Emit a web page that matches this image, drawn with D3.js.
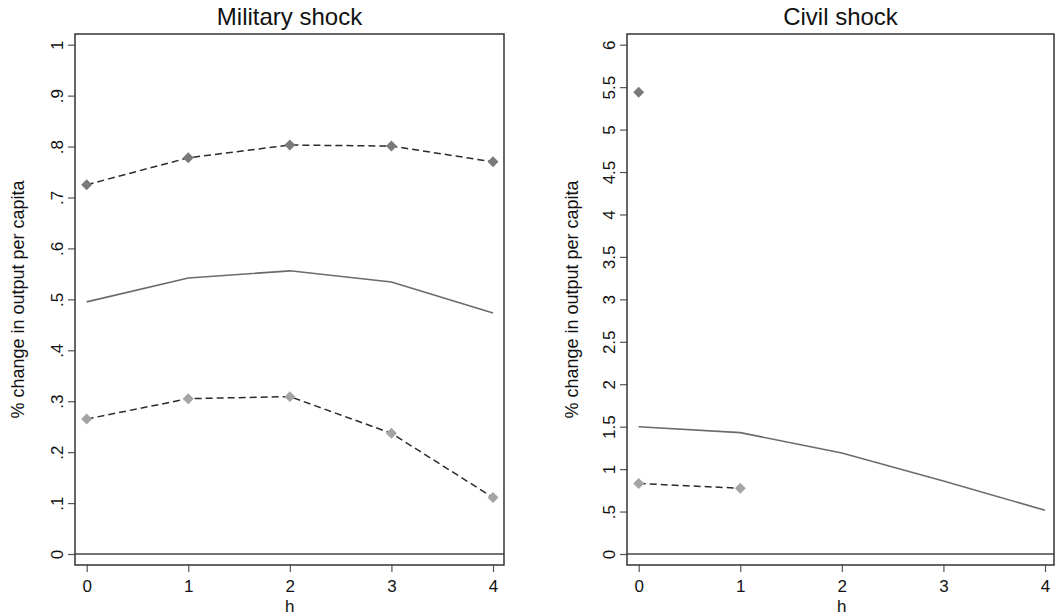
<!DOCTYPE html>
<html>
<head>
  <meta charset="utf-8">
  <title>Military and civil shocks</title>
  <script src="https://cdn.jsdelivr.net/npm/d3@7"></script>
  <style>
    body { margin: 0; background: #fff; }
    text { font-family: "Liberation Sans", Arial, sans-serif; fill: #111; }
  </style>
</head>
<body>
<div id="vis"></div>
<script>
// horizons and estimates
var horizons = [0, 1, 2, 3, 4];

var milEst   = [0.495, 0.542, 0.556, 0.534, 0.473];
var milUpper = [0.725, 0.778, 0.803, 0.801, 0.770];
var milLower = [0.265, 0.305, 0.309, 0.237, 0.111];

var civEst   = [1.50, 1.43, 1.19, 0.86, 0.515];
var civUpper = [5.44, null, null, null, null];
var civLower = [0.83, 0.775, null, null, null];

var milTicks = [0, .1, .2, .3, .4, .5, .6, .7, .8, .9, 1];
var milLabels = ["0", ".1", ".2", ".3", ".4", ".5", ".6", ".7", ".8", ".9", "1"];
var civTicks = [0, .5, 1, 1.5, 2, 2.5, 3, 3.5, 4, 4.5, 5, 5.5, 6];
var civLabels = ["0", ".5", "1", "1.5", "2", "2.5", "3", "3.5", "4", "4.5", "5", "5.5", "6"];

var svg = d3.select("#vis").append("svg")
  .attr("width", 1055)
  .attr("height", 615);

function panel(opt) {
  var top = 34, bottom = 565;

  var x = d3.scaleLinear().domain([0, 4]).range([opt.x0, opt.x4]);
  var y = d3.scaleLinear().domain([0, opt.ymax]).range([554, 44.7]);

  var g = svg.append("g");

  // title
  g.append("text")
    .attr("x", (opt.left + opt.right) / 2)
    .attr("y", 25)
    .attr("text-anchor", "middle")
    .style("font-size", "24px")
    .text(opt.title);

  // y axis
  var ya = g.append("g")
    .attr("transform", "translate(" + opt.left + ",0)")
    .call(d3.axisLeft(y).tickValues(opt.ticks)
      .tickFormat(function(d, i) { return opt.labels[i]; })
      .tickSize(7).tickSizeOuter(0));
  ya.select(".domain").remove();
  ya.selectAll(".tick line").attr("stroke", "#555").attr("stroke-width", 1.2);
  ya.selectAll(".tick text")
    .attr("transform", "rotate(-90)")
    .attr("x", 0).attr("y", -12).attr("dy", 0)
    .attr("text-anchor", "middle")
    .style("font-size", "17px")
    .style("font-family", "'Liberation Sans', Arial, sans-serif")
    .attr("fill", "#111");

  // x axis
  var xa = g.append("g")
    .attr("transform", "translate(0," + bottom + ")")
    .call(d3.axisBottom(x).tickValues(horizons)
      .tickFormat(d3.format("d"))
      .tickSize(7).tickSizeOuter(0));
  xa.select(".domain").remove();
  xa.selectAll(".tick line").attr("stroke", "#555").attr("stroke-width", 1.2);
  xa.selectAll(".tick text")
    .attr("y", 27).attr("dy", 0)
    .style("font-size", "17px")
    .style("font-family", "'Liberation Sans', Arial, sans-serif")
    .attr("fill", "#111");

  // axis titles
  g.append("text")
    .attr("transform", "translate(" + opt.ytitleX + "," + ((top + bottom) / 2) + ") rotate(-90)")
    .attr("text-anchor", "middle")
    .style("font-size", "18px")
    .text("% change in output per capita");

  g.append("text")
    .attr("x", x(2))
    .attr("y", 612)
    .attr("text-anchor", "middle")
    .style("font-size", "17px")
    .text("h");

  // zero line
  g.append("line")
    .attr("x1", opt.left).attr("x2", opt.right)
    .attr("y1", y(0)).attr("y2", y(0))
    .attr("stroke", "#444").attr("stroke-width", 1.3);

  // frame
  g.append("rect")
    .attr("x", opt.left).attr("y", top)
    .attr("width", opt.right - opt.left).attr("height", bottom - top)
    .attr("fill", "none").attr("stroke", "#333").attr("stroke-width", 1.5);

  var line = d3.line()
    .defined(function(d) { return d != null; })
    .x(function(d, i) { return x(horizons[i]); })
    .y(function(d) { return y(d); });

  g.append("path").datum(opt.est)
    .attr("d", line)
    .attr("fill", "none").attr("stroke", "#6b6b6b").attr("stroke-width", 1.6);

  [opt.upper, opt.lower].forEach(function(s) {
    g.append("path").datum(s)
      .attr("d", line)
      .attr("fill", "none").attr("stroke", "#2b2b2b")
      .attr("stroke-width", 1.5).attr("stroke-dasharray", "7,4");
  });

  var diamond = d3.symbol().type(d3.symbolSquare).size(60);

  function markers(s, col) {
    g.selectAll(null)
      .data(s.map(function(v, i) { return {h: horizons[i], v: v}; })
        .filter(function(d) { return d.v != null; }))
      .enter().append("path")
      .attr("d", diamond)
      .attr("transform", function(d) {
        return "translate(" + x(d.h) + "," + y(d.v) + ") rotate(45)";
      })
      .attr("fill", col);
  }
  markers(opt.upper, "#7a7a7a");
  markers(opt.lower, "#a4a4a4");
}

panel({
  title: "Military shock", left: 75, right: 504, x0: 86.7, x4: 493,
  ymax: 1, ticks: milTicks, labels: milLabels, ytitleX: 24,
  est: milEst, upper: milUpper, lower: milLower
});

panel({
  title: "Civil shock", left: 627, right: 1054, x0: 638.7, x4: 1045,
  ymax: 6, ticks: civTicks, labels: civLabels, ytitleX: 578,
  est: civEst, upper: civUpper, lower: civLower
});
</script>
</body>
</html>
